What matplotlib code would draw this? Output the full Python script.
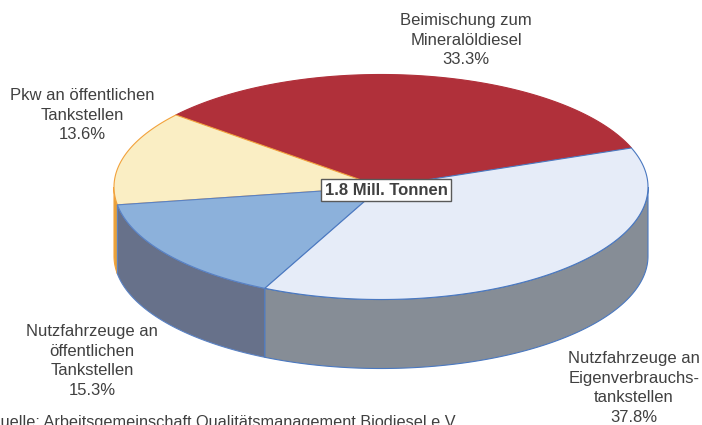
import numpy as np
import matplotlib.pyplot as plt
from matplotlib.patches import Polygon

# Biodiesel-Absatz nach Verwendung (Anteile in %)
labels = [
    "Beimischung zum\nMineralöldiesel",
    "Pkw an öffentlichen\nTankstellen",
    "Nutzfahrzeuge an\nöffentlichen\nTankstellen",
    "Nutzfahrzeuge an\nEigenverbrauchs-\ntankstellen",
]
shares = [33.3, 13.6, 15.3, 37.8]
total_label = "1.8 Mill. Tonnen"
source = "Quelle: Arbeitsgemeinschaft Qualitätsmanagement Biodiesel e.V"

top_colors = ["#B0303A", "#FAEEC4", "#8CB1DB", "#E6ECF8"]
side_colors = ["#7A2028", "#E8A23A", "#67718A", "#868D96"]
edge_colors = ["#B0303A", "#F2A23C", "#5A82C4", "#4A78C0"]

# label anchors (pixel coords, centre of text block)
label_pos = [(466, 40), (82, 115), (92, 361), (634, 388)]

plt.rcParams["font.family"] = ["Liberation Sans", "DejaVu Sans"]

fig = plt.figure(figsize=(7.02, 4.25), dpi=100)
ax = fig.add_axes([0, 0, 1, 1])
ax.set_xlim(0, 702)
ax.set_ylim(425, 0)
ax.axis("off")

# pie geometry (pixels)
cx, cy, rx, ry, depth = 381, 187, 267, 112.5, 69
start = 20.3


def arc(t0, t1, dy=0):
    t = np.radians(np.linspace(t0, t1, 200))
    return np.column_stack([cx + rx * np.cos(t), cy - ry * np.sin(t) + dy])


fracs = np.array(shares) / sum(shares) * 360
bounds = start + np.concatenate([[0], np.cumsum(fracs)])

# side walls (only the front half, 180..360 deg, is visible)
for i in range(len(shares)):
    t0, t1 = bounds[i], bounds[i + 1]
    a, b = max(t0, 180), min(t1, 360)
    if a >= b:
        continue
    top = arc(a, b)
    bot = arc(b, a, depth)
    ax.add_patch(Polygon(np.vstack([top, bot]), closed=True,
                         facecolor=side_colors[i], edgecolor=edge_colors[i],
                         linewidth=0.8, zorder=1))

# top faces
for i in range(len(shares)):
    pts = np.vstack([[cx, cy], arc(bounds[i], bounds[i + 1])])
    ax.add_patch(Polygon(pts, closed=True, facecolor=top_colors[i],
                         edgecolor=edge_colors[i], linewidth=0.8,
                         joinstyle="round", zorder=2))

for lab, val, (x, y) in zip(labels, shares, label_pos):
    ax.text(x, y, f"{lab}\n{val:.1f}%", ha="center", va="center",
            fontsize=12, color="#404040", linespacing=1.38, zorder=5)

ax.text(cx + 5, 190, total_label, ha="center", va="center",
        fontsize=12, fontweight="bold", color="#404040", zorder=6,
        bbox=dict(boxstyle="square,pad=0.2", facecolor="white",
                  edgecolor="#595959", linewidth=1))

ax.text(-12, 427, source, ha="left", va="baseline", fontsize=11.7,
        color="#404040", zorder=5)

fig.savefig("out.png", dpi=100)
